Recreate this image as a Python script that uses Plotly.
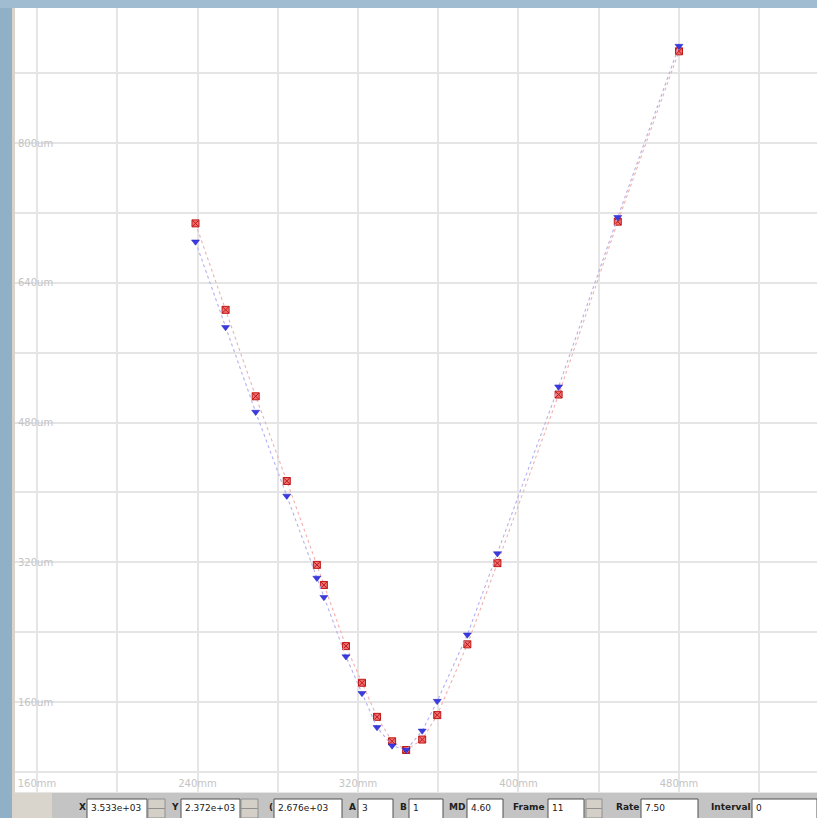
import plotly.graph_objects as go

# ---- data ----
x_mm = [239, 254, 269, 284.5, 299.5, 303, 314, 322, 329.5, 337, 344, 352, 359.5, 374.5, 389.5, 420, 449.5, 480]
red_um = [708, 609, 510, 413, 317, 294, 224, 182, 143, 115, 105, 117, 145, 226, 319, 512, 710, 905]
blue_um = [687, 589, 492, 396, 302, 280, 212, 170, 131, 110, 105, 127, 161, 237, 330, 521, 715, 911]

toolbar_labels = ["X", "Y", "(", "A", "B", "MD", "Frame", "Rate", "Interval"]
toolbar_values = ["3.533e+03", "2.372e+03", "2.676e+03", "3", "1", "4.60", "11", "7.50", "0"]

W, H = 817, 818
L, R, T, B = 15, 0, 8, 26

def px(x):
    return (x - L) / (W - L - R)

def py(y):
    return (H - B - y) / (H - T - B)

fig = go.Figure()
fig.add_trace(go.Scatter(
    x=x_mm, y=red_um, mode="lines+markers", name="red",
    line=dict(color="#f2b0b0", width=1.1, dash="dot"),
    marker=dict(symbol="square-x", size=7, color="#ee7070",
                line=dict(color="#c01818", width=1)),
))
fig.add_trace(go.Scatter(
    x=x_mm, y=blue_um, mode="lines+markers", name="blue",
    line=dict(color="#b0b0f2", width=1.1, dash="dot"),
    marker=dict(symbol="triangle-down", size=7, color="#3a3ae0",
                line=dict(color="#2020c0", width=0.5)),
))

grid = "#e5e5e5"
tickfont = dict(family="DejaVu Sans", size=10, color="#c4c4c4")
fig.update_xaxes(
    range=[149.03, 548.8], tick0=160, dtick=80, ticksuffix="mm",
    showgrid=True, gridcolor=grid, gridwidth=2,
    minor=dict(dtick=40, showgrid=True, gridcolor=grid, gridwidth=2),
    zeroline=False, showline=False, ticks="",
    ticklabelposition="inside", ticklabeloverflow="allow", tickfont=tickfont,
)
fig.update_yaxes(
    range=[56.95, 954.6], tick0=160, dtick=160, ticksuffix="um",
    showgrid=True, gridcolor=grid, gridwidth=2,
    minor=dict(dtick=80, showgrid=True, gridcolor=grid, gridwidth=2),
    zeroline=False, showline=False, ticks="",
    ticklabelposition="inside", ticklabeloverflow="allow", tickfont=tickfont,
)

shapes = []
annotations = []
# top strip
shapes.append(dict(type="rect", xref="paper", yref="paper", x0=px(0), x1=px(W), y0=py(0), y1=py(T),
                   fillcolor="#9fbcd0", line=dict(width=0), layer="above"))
# left border of panel
shapes.append(dict(type="rect", xref="paper", yref="paper", x0=px(12), x1=px(15), y0=py(T), y1=py(H),
                   fillcolor="#d8d4cc", line=dict(width=0), layer="above"))
# toolbar
shapes.append(dict(type="rect", xref="paper", yref="paper", x0=px(15), x1=px(W), y0=py(792), y1=py(H),
                   fillcolor="#c4c4c4", line=dict(width=0), layer="above"))
shapes.append(dict(type="rect", xref="paper", yref="paper", x0=px(15), x1=px(52), y0=py(792), y1=py(H),
                   fillcolor="#d9d5cd", line=dict(width=0), layer="above"))
shapes.append(dict(type="line", xref="paper", yref="paper", x0=px(15), x1=px(W), y0=py(792.5), y1=py(792.5),
                   line=dict(color="#e6e6e6", width=1), layer="above"))

label_x = [82, 175, 271, 352, 403, 457, 529, 627, 731]
box_x = [(87, 147), (181, 240), (274, 342), (358, 393), (409, 443), (467, 503), (548, 584), (641, 698), (752, 817)]
spinners = [(148, 165), (241, 258), (586, 602)]

for lab, lx in zip(toolbar_labels, label_x):
    annotations.append(dict(x=px(lx), y=py(807), xref="paper", yref="paper", text="<b>%s</b>" % lab,
                            showarrow=False, font=dict(family="DejaVu Sans", size=9, color="#202020"),
                            xanchor="center", yanchor="middle"))
for val, (bx0, bx1) in zip(toolbar_values, box_x):
    shapes.append(dict(type="rect", xref="paper", yref="paper", x0=px(bx0), x1=px(bx1), y0=py(799), y1=py(H + 2),
                       fillcolor="white", line=dict(color="#505050", width=1), layer="above"))
    annotations.append(dict(x=px(bx0 + 2), y=py(807.5), xref="paper", yref="paper", text=val,
                            showarrow=False, font=dict(family="DejaVu Sans", size=9, color="#202020"),
                            xanchor="left", yanchor="middle"))
for sx0, sx1 in spinners:
    shapes.append(dict(type="rect", xref="paper", yref="paper", x0=px(sx0), x1=px(sx1), y0=py(799), y1=py(H),
                       fillcolor="#d4d0c8", line=dict(color="#909090", width=1), layer="above"))
    shapes.append(dict(type="line", xref="paper", yref="paper", x0=px(sx0), x1=px(sx1), y0=py(808.5), y1=py(808.5),
                       line=dict(color="#909090", width=1), layer="above"))

fig.update_layout(
    width=W, height=H,
    margin=dict(l=L, r=R, t=T, b=B, pad=0),
    paper_bgcolor="#8fb0c6", plot_bgcolor="white",
    showlegend=False,
    shapes=shapes, annotations=annotations,
)

fig.write_html(
    "out.html",
    config={"displayModeBar": False},
    post_script="document.body.style.margin='0';document.body.style.padding='0';document.body.style.overflow='hidden';",
)
